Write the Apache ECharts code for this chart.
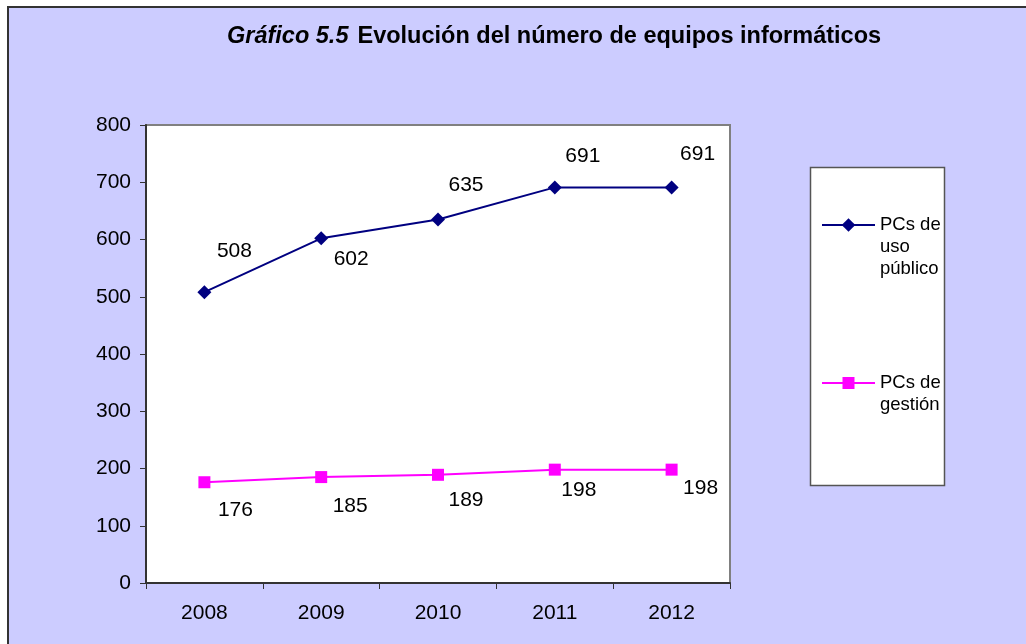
<!DOCTYPE html>
<html>
<head>
	<meta charset="utf-8">
	<title>Gráfico 5.5</title>
	<script src="https://cdn.jsdelivr.net/npm/echarts@6/dist/echarts.min.js"></script>
	<style>
		html, body { margin: 0; padding: 0; background: #ffffff; }
		#main { width: 1026px; height: 644px; }
	</style>
</head>
<body>
<div id="main"></div>
<script>
	// Datos
	var years = ['2008', '2009', '2010', '2011', '2012'];
	var pcsPublico = [508, 602, 635, 691, 691];
	var pcsGestion = [176, 185, 189, 198, 198];
	var yTicks = { min: 0, max: 800, interval: 100 };

	// Desplazamiento de cada etiqueta respecto a su punto (como en el original)
	var offPublico = [[30, -41], [30, 21], [28, -34], [28, -31], [26, -33]];
	var offGestion = [[31, 28], [29, 29], [28, 25], [24, 21], [29, 19]];

	var font = '"Liberation Sans", Arial, sans-serif';

	function withLabels(values, offsets) {
		return values.map(function(v, i) {
			return { value: v, label: { offset: offsets[i] } };
		});
	}

	var chart = echarts.init(document.getElementById('main'));

	var option = {
		backgroundColor: '#ffffff',
		animation: false,
		textStyle: { fontFamily: font },
		title: {
			left: 227,
			top: 25,
			padding: 0,
			text: '{i|Gráfico 5.5} {b|Evolución del número de equipos informáticos}',
			textStyle: {
				rich: {
					i: { fontFamily: font, fontSize: 23.5, fontWeight: 'bold', fontStyle: 'italic', color: '#000' },
					b: { fontFamily: font, fontSize: 23.5, fontWeight: 'bold', color: '#000', padding: [0, 0, 0, 4] }
				}
			}
		},
		graphic: [
			{
				type: 'rect', z: -1,
				shape: { x: 8, y: 7, width: 1100, height: 700 },
				style: { fill: '#ccccff', stroke: '#333333', lineWidth: 2 }
			},
			{
				type: 'rect', z: 1,
				shape: { x: 810.5, y: 167.5, width: 134, height: 318 },
				style: { fill: '#ffffff', stroke: '#555555', lineWidth: 1.5 }
			}
		],
		legend: [
			{
				// líneas vacías arriba para que "PCs de" quede a la altura del símbolo
				data: ['PCs de uso público'],
				left: 821, top: 170, padding: 0,
				itemWidth: 53, itemHeight: 17,
				formatter: function() { return '\n\nPCs de\nuso\npúblico'; },
				textStyle: { fontFamily: font, fontSize: 18.5, lineHeight: 22, color: '#000' }
			},
			{
				data: ['PCs de gestión'],
				left: 821, top: 350, padding: 0,
				itemWidth: 53, itemHeight: 15,
				formatter: function() { return '\nPCs de\ngestión'; },
				textStyle: { fontFamily: font, fontSize: 18.5, lineHeight: 22, color: '#000' }
			}
		],
		grid: {
			left: 146, top: 125, right: 296, bottom: 61,
			show: true, backgroundColor: '#ffffff',
			borderColor: '#808080', borderWidth: 2
		},
		xAxis: {
			type: 'category',
			data: years,
			boundaryGap: true,
			axisLine: { show: true, lineStyle: { color: '#333333', width: 2 } },
			axisTick: { show: true, length: 6, lineStyle: { color: '#333333' } },
			axisLabel: { margin: 20, fontSize: 21, color: '#000', fontFamily: font },
			splitLine: { show: false }
		},
		yAxis: {
			type: 'value',
			min: yTicks.min, max: yTicks.max, interval: yTicks.interval,
			axisLine: { show: true, lineStyle: { color: '#333333', width: 2 } },
			axisTick: { show: true, length: 6, lineStyle: { color: '#333333' } },
			axisLabel: { margin: 15, fontSize: 21, color: '#000', fontFamily: font },
			splitLine: { show: false }
		},
		series: [
			{
				name: 'PCs de uso público',
				type: 'line',
				data: withLabels(pcsPublico, offPublico),
				symbol: 'diamond', symbolSize: 14,
				lineStyle: { color: '#000080', width: 2 },
				itemStyle: { color: '#000080' },
				label: { show: true, position: 'inside', fontSize: 21, color: '#000', fontFamily: font }
			},
			{
				name: 'PCs de gestión',
				type: 'line',
				data: withLabels(pcsGestion, offGestion),
				symbol: 'rect', symbolSize: 12,
				lineStyle: { color: '#ff00ff', width: 2 },
				itemStyle: { color: '#ff00ff' },
				label: { show: true, position: 'inside', fontSize: 21, color: '#000', fontFamily: font }
			}
		]
	};

	chart.setOption(option);
</script>
</body>
</html>
